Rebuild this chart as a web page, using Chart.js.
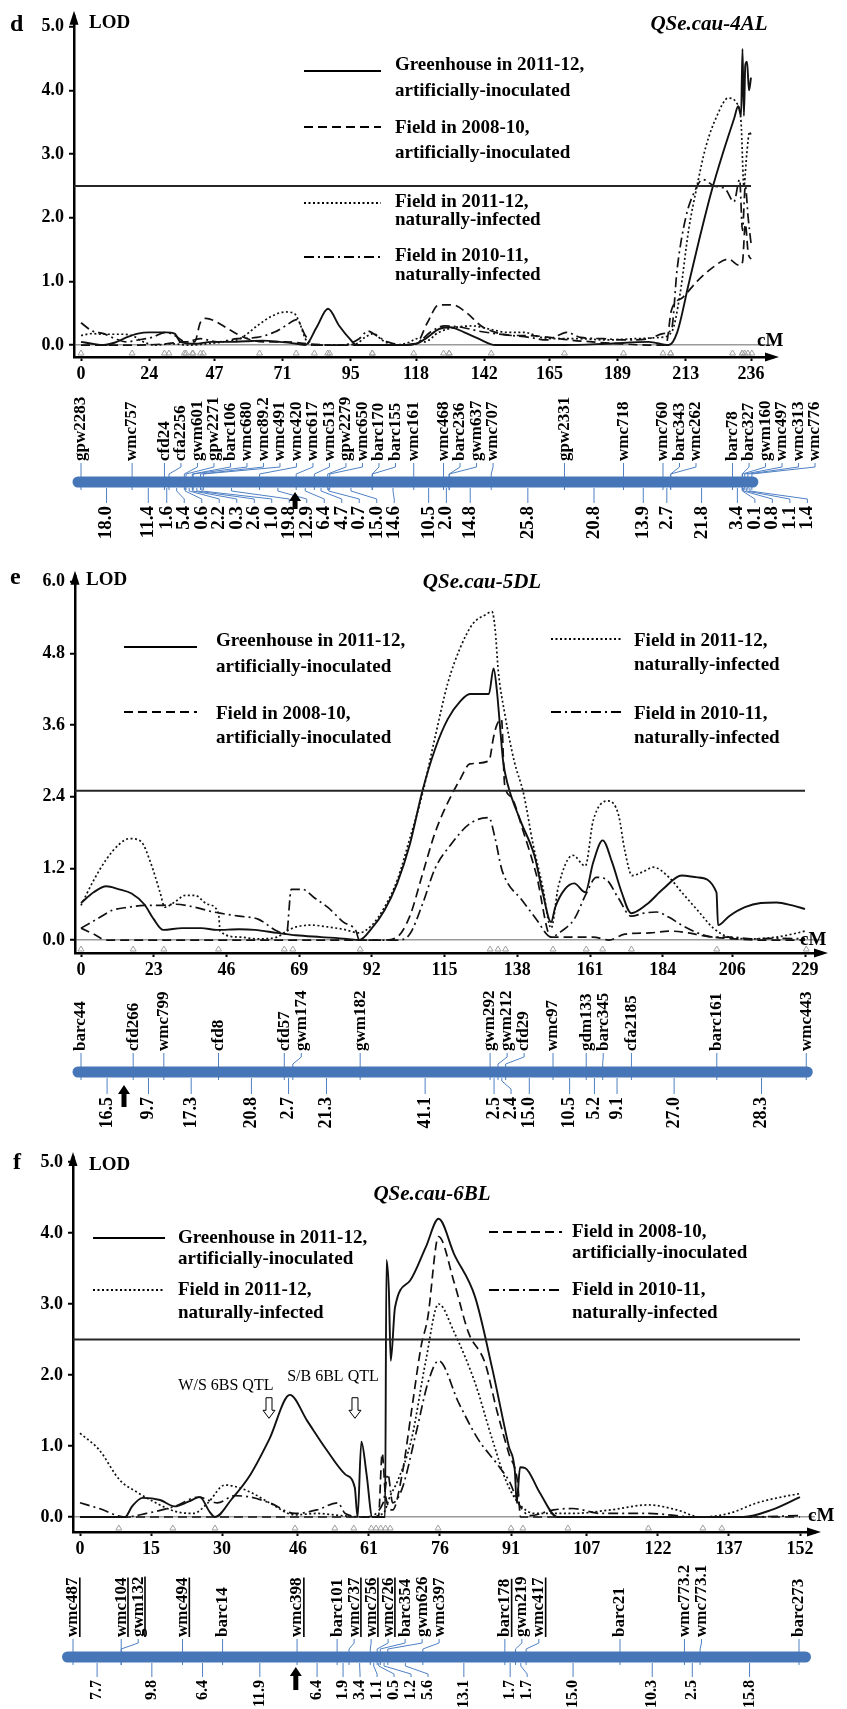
<!DOCTYPE html>
<html><head><meta charset="utf-8">
<script src="https://cdn.jsdelivr.net/npm/chart.js@4.4.1/dist/chart.umd.min.js"></script>
<style>
html,body{margin:0;padding:0;background:#fff;width:847px;height:1709px;overflow:hidden;position:relative}
canvas{position:absolute;left:0}
</style></head>
<body>
<canvas id="cd" width="847" height="560" style="top:0px;width:847px;height:560px"></canvas>
<canvas id="ce" width="847" height="580" style="top:560px;width:847px;height:580px"></canvas>
<canvas id="cf" width="847" height="569" style="top:1140px;width:847px;height:569px"></canvas>
<script>
// ================= DATA =================
const seriesNames = {
  gh:    ['Greenhouse in 2011-12,', 'artificially-inoculated'],
  f0810: ['Field in 2008-10,', 'artificially-inoculated'],
  f1112: ['Field in 2011-12,', 'naturally-infected'],
  f1011: ['Field in 2010-11,', 'naturally-infected']
};

// ---- Panel d : QSe.cau-4AL ----
const d_xTicks = ['0','24','47','71','95','118','142','165','189','213','236'];
const d_yTicks = ['0.0','1.0','2.0','3.0','4.0','5.0'];
const d_threshold = 2.5;
const d_greenhouse = [[0,0.05],[4,0.02],[8,0.0],[12,0.04],[16,0.12],[20,0.18],[24,0.2],[30,0.2],[33,0.18],[35,0.05],[40,0.02],[46,0.05],[52,0.05],[58,0.06],[64,0.07],[70,0.05],[76,0.02],[79,0.0],[83,0.28],[87,0.57],[91,0.3],[95,0.08],[97,0.0],[105,0.0],[112,0.0],[118,0.02],[122,0.12],[126,0.25],[130,0.28],[135,0.2],[140,0.1],[146,0.0],[155,0.0],[170,0.0],[185,0.02],[200,0.05],[207,0.0],[210,0.2],[214,0.95],[218,1.7],[222,2.4],[226,3.0],[230,3.55],[231.5,3.75],[232.5,3.6],[233,4.65],[233.5,3.6],[234,4.4],[234.6,4.45],[235.3,4.0],[236,4.2]];
const d_field0810 = [[0,0.0],[20,0.0],[30,0.02],[36,0.05],[40,0.05],[42,0.35],[44,0.42],[47,0.38],[52,0.25],[56,0.15],[60,0.08],[66,0.05],[72,0.05],[80,0.02],[90,0.0],[100,0.0],[110,0.0],[118,0.02],[122,0.35],[126,0.63],[131,0.63],[136,0.5],[141,0.3],[146,0.2],[152,0.15],[158,0.15],[165,0.12],[172,0.08],[180,0.05],[190,0.02],[200,0.0],[206,0.0],[208,0.55],[212,0.75],[217,1.0],[222,1.2],[228,1.35],[232,1.25],[233,1.3],[234,1.9],[235,1.45],[236,1.35]];
const d_field1112 = [[0,0.15],[4,0.18],[8,0.17],[14,0.17],[18,0.15],[22,0.05],[26,0.0],[32,0.02],[38,0.0],[44,0.02],[50,0.05],[56,0.1],[62,0.3],[67,0.45],[72,0.52],[75,0.5],[77,0.35],[79,0.1],[81,0.0],[90,0.0],[97,0.02],[100,0.12],[103,0.18],[106,0.08],[110,0.0],[116,0.05],[118,0.1],[121,0.05],[126,0.2],[132,0.28],[138,0.3],[144,0.25],[150,0.2],[156,0.2],[162,0.12],[168,0.1],[175,0.1],[185,0.08],[195,0.1],[204,0.12],[208,0.2],[211,0.8],[214,1.8],[217,2.5],[220,3.1],[224,3.6],[228,3.88],[231,3.8],[232.5,3.5],[233.5,2.5],[234.5,3.0],[235.5,3.35],[236,3.3]];
const d_field1011 = [[0,0.35],[4,0.22],[8,0.18],[12,0.1],[16,0.05],[20,0.08],[25,0.12],[30,0.2],[33,0.15],[37,0.05],[42,0.1],[48,0.05],[55,0.1],[62,0.12],[68,0.2],[72,0.3],[76,0.4],[79,0.15],[82,0.0],[92,0.0],[98,0.1],[101,0.22],[104,0.15],[108,0.05],[114,0.0],[119,0.05],[123,0.2],[128,0.3],[134,0.28],[140,0.22],[146,0.18],[152,0.15],[158,0.12],[164,0.08],[168,0.15],[171,0.2],[176,0.12],[184,0.1],[192,0.08],[200,0.1],[205,0.18],[208,0.25],[210,1.2],[213,2.0],[216,2.4],[219,2.6],[223,2.5],[227,2.45],[230,2.25],[232,2.6],[233,1.8],[234,2.5],[235,2.0],[236,1.6]];
const d_markers = ['gpw2283','wmc757','cfd24','cfa2256','gwm601','gpw2271','barc106','wmc680','wmc89.2','wmc491','wmc420','wmc617','wmc513','gpw2279','wmc650','barc170','barc155','wmc161','wmc468','barc236','gwm637','wmc707','gpw2331','wmc718','wmc760','barc343','wmc262','barc78','barc327','gwm160','wmc497','wmc313','wmc776'];
const d_markerPos = [0,18.0,29.4,31.0,36.4,37.0,39.2,39.5,42.1,43.1,62.9,75.8,82.2,86.9,87.6,102.6,102.6,117.2,127.7,129.7,129.7,144.5,170.3,191.1,205.0,207.7,207.7,229.5,232.9,233.0,233.8,234.9,236.3];
const d_intervals = ['18.0','11.4','1.6','5.4','0.6','2.2','0.3','2.6','1.0','19.8','12.9','6.4','4.7','0.7','15.0','14.6','10.5','2.0','14.8','25.8','20.8','13.9','2.7','21.8','3.4','0.1','0.8','1.1','1.4'];
const d_arrow = [75.4];

// ---- Panel e : QSe.cau-5DL ----
const e_xTicks = ['0','23','46','69','92','115','138','161','184','206','229'];
const e_yTicks = ['0.0','1.2','2.4','3.6','4.8','6.0'];
const e_threshold = 2.5;
const e_greenhouse = [[0,0.62],[4,0.8],[8,0.9],[12,0.85],[16,0.78],[20,0.6],[23,0.35],[26,0.17],[32,0.2],[38,0.2],[43,0.17],[50,0.18],[55,0.17],[62,0.12],[68,0.08],[76,0.05],[84,0.02],[88,0.0],[92,0.2],[96,0.5],[100,0.95],[104,1.6],[108,2.5],[112,3.2],[116,3.7],[120,4.0],[123,4.12],[129,4.12],[130.5,4.55],[131.5,4.2],[132.5,3.6],[133.5,3.0],[135,2.6],[139,2.0],[143.5,1.4],[146,0.8],[148.7,0.3],[150,0.55],[153,0.85],[156,0.95],[159.5,0.8],[162,1.3],[165,1.67],[168,1.3],[171,0.8],[174,0.45],[179,0.6],[184,0.85],[190,1.08],[195,1.05],[201,0.8],[201.5,0.25],[205,0.4],[210,0.55],[215,0.62],[220,0.63],[225,0.58],[229,0.52]];
const e_field0810 = [[0,0.2],[4,0.1],[8,0.0],[20,0.0],[40,0.0],[60,0.0],[80,0.0],[90,0.0],[96,0.0],[100,0.05],[104,0.4],[108,1.1],[112,1.8],[116,2.3],[120,2.7],[123,2.95],[129,3.0],[130.5,3.4],[131.5,3.6],[133,3.7],[134,2.6],[136,2.4],[140,1.8],[144,1.1],[148.7,0.05],[155,0.05],[162,0.05],[167,0.0],[172,0.1],[180,0.12],[186,0.15],[192,0.12],[197,0.07],[204,0.03],[215,0.0],[229,0.0]];
const e_field1112 = [[0,0.58],[4,1.0],[8,1.35],[12,1.6],[15.4,1.7],[19,1.65],[22,1.3],[25,0.8],[26.5,0.55],[30,0.65],[33,0.75],[36,0.75],[40,0.6],[43.5,0.45],[44,0.15],[50,0.05],[56,0.02],[62,0.05],[65,0.15],[68,0.22],[73,0.25],[78,0.22],[83,0.18],[88,0.12],[92,0.25],[96,0.55],[100,1.0],[104,1.7],[108,2.45],[112,3.4],[116,4.3],[120,4.9],[124,5.3],[128,5.45],[130,5.5],[131,5.2],[132,4.5],[134,3.8],[137,3.0],[140,2.45],[143,1.6],[146,0.9],[148.7,0.2],[151,0.9],[155.6,1.42],[159.5,1.24],[162,2.0],[166.7,2.33],[170,2.1],[172,1.5],[174.3,1.08],[178,1.15],[181,1.22],[186,1.05],[190,0.8],[195,0.5],[200,0.2],[205,0.05],[212,0.02],[220,0.05],[225,0.1],[229,0.15]];
const e_field1011 = [[0,0.2],[5,0.35],[10,0.5],[15,0.55],[20,0.58],[25,0.58],[30,0.6],[36,0.55],[41,0.48],[44,0.45],[50,0.4],[56,0.35],[62,0.15],[65,0.1],[66.5,0.85],[70,0.85],[74,0.7],[78,0.55],[83,0.3],[87,0.15],[88,0.0],[100,0.0],[104,0.1],[108,0.6],[112,1.2],[117,1.6],[123,1.95],[129,2.05],[131,1.7],[133,1.2],[135,0.95],[139,0.7],[144,0.35],[148.7,0.05],[152,0.15],[156,0.35],[160,0.8],[163,1.05],[166,1.02],[170,0.7],[174,0.4],[178,0.45],[182,0.47],[186,0.38],[190,0.25],[196,0.1],[200,0.05],[206,0.05],[212,0.02],[220,0.03],[229,0.02]];
const e_markers = ['barc44','cfd266','wmc799','cfd8','cfd57','gwm174','gwm182','gwm292','gwm212','cfd29','wmc97','gdm133','barc345','cfa2185','barc161','wmc443'];
const e_markerPos = [0,16.5,26.2,43.5,64.3,67.0,88.3,129.4,131.9,134.3,149.3,159.8,165.0,174.1,201.1,229.4];
const e_intervals = ['16.5','9.7','17.3','20.8','2.7','21.3','41.1','2.5','2.4','15.0','10.5','5.2','9.1','27.0','28.3'];
const e_arrow = [13.6];

// ---- Panel f : QSe.cau-6BL ----
const f_xTicks = ['0','15','30','46','61','76','91','107','122','137','152'];
const f_yTicks = ['0.0','1.0','2.0','3.0','4.0','5.0'];
const f_threshold = 2.5;
const f_greenhouse = [[0,0.0],[5,0.0],[9.5,0.0],[11,0.15],[13.2,0.27],[16.9,0.24],[20,0.15],[23,0.22],[25.3,0.28],[27.4,0.07],[28.5,0.0],[32,0.25],[36,0.6],[40,1.1],[44.3,1.72],[48,1.35],[52,0.95],[56,0.6],[58,0.42],[58.6,0.0],[59.4,1.06],[60.5,0.6],[61.7,0.0],[64.4,0.0],[64.7,3.62],[65.2,3.2],[65.6,2.2],[66.5,2.95],[69.7,3.33],[73,3.8],[75.7,4.2],[79,3.7],[83.4,3.1],[87,2.1],[90.5,1.0],[91.8,0.65],[92.2,0.2],[92.9,0.7],[94,0.69],[97,0.35],[100.8,0.0],[110,0.0],[125,0.0],[140,0.0],[146,0.1],[152,0.28]];
const f_field0810 = [[0,0.0],[20,0.0],[40,0.0],[58,0.0],[63,0.0],[63.8,0.9],[64.5,0.3],[66,0.1],[68,0.6],[70,1.5],[72,2.4],[73.4,2.8],[75.7,3.95],[79,3.3],[82,2.6],[85.5,2.17],[88,1.5],[90.5,0.9],[92.4,0.48],[93,0.0],[110,0.0],[130,0.0],[152,0.0]];
const f_field1112 = [[0,1.18],[4,0.95],[8.4,0.52],[12,0.35],[16,0.2],[20,0.08],[24,0.05],[27,0.2],[30.6,0.45],[32.7,0.43],[36,0.35],[40,0.2],[45.4,0.03],[50,0.05],[55,0.02],[60,0.0],[64,0.05],[65.5,0.3],[67,0.5],[70,1.1],[73,2.2],[75.7,3.0],[79,2.6],[83.4,1.89],[87,1.1],[90,0.5],[92.5,0.2],[96,0.05],[104,0.05],[112,0.1],[120,0.17],[126,0.1],[131,0.0],[137,0.05],[143,0.2],[148,0.28],[152,0.33]];
const f_field1011 = [[0,0.2],[4,0.12],[9.5,0.0],[14,0.05],[20,0.15],[25,0.28],[29,0.2],[32.7,0.3],[36,0.28],[40,0.2],[45.4,0.05],[50,0.1],[54.4,0.2],[56,0.05],[60,0.0],[64,0.2],[65,0.6],[66,0.2],[68,0.4],[71,1.2],[73.5,1.9],[75.7,2.2],[80,1.6],[84,1.1],[88,0.75],[90.8,0.48],[92.5,0.2],[95,0.02],[100,0.1],[104,0.12],[110,0.05],[120,0.05],[130,0.0],[140,0.0],[152,0.02]];
const f_axisMarks = [8.2,19.6,28.5,45.4,53.8,57.8,61.5,62.5,63.5,64.5,65.5,75.6,91,93.5,103,120,131.5,135.5];
const f_markers = ['wmc487','wmc104','gwm132','wmc494','barc14','wmc398','barc101','wmc737','wmc756','wmc726','barc354','gwm626','wmc397','barc178','gwm219','wmc417','barc21','wmc773.2','wmc773.1','barc273'];
const f_underlined = ['wmc487','wmc104','gwm132','wmc494','wmc398','wmc737','wmc756','wmc726','barc178','wmc417'];
const f_markerPos = [0,7.7,7.7,17.5,23.9,35.8,42.2,44.1,47.5,48.6,49.1,50.3,55.9,69.0,70.7,72.4,87.4,97.7,100.2,116.0];
const f_intervals = ['7.7','9.8','6.4','11.9','6.4','1.9','3.4','1.1','0.5','1.2','5.6','13.1','1.7','1.7','15.0','10.3','2.5','15.8'];
const f_arrow = [35.6];
const f_qtlNotes = ['W/S 6BS QTL', 'S/B 6BL QTL'];

// ================= STYLE / LAYOUT =================
const SERIF = '"Liberation Serif","Times New Roman",serif';
const BAR_BLUE = '#4676b8';
const LINE_BLUE = '#4f80c4';
const STY = {
  gh:    {dash: [],            width: 1.9},
  f0810: {dash: [9, 5],        width: 1.7},
  f1112: {dash: [2, 2.5],      width: 1.7},
  f1011: {dash: [10, 4, 2, 4], width: 1.7}
};

const panels = [
  { id:'cd', canvasTop:0, canvasH:560, letter:'d', title:'QSe.cau-4AL',
    plotLeft:74, zeroX:81, maxCM:236, endX:751, axisRight:773, plotTop:14, zeroY:345, topTickVal:5, topTickY:25, axisY:357,
    xTicks:d_xTicks, yTicks:d_yTicks, threshold:d_threshold,
    series:{gh:d_greenhouse, f0810:d_field0810, f1112:d_field1112, f1011:d_field1011},
    axisMarks:d_markerPos,
    letterPos:[10,25], lodPos:[89,23], cmPos:[757,341], titlePos:[709,25],
    legend:[{k:'gh',x1:304,x2:381,y:71,tx:395,ty:[65,91]},{k:'f0810',x1:304,x2:381,y:127,tx:395,ty:[128,153]},
            {k:'f1112',x1:304,x2:381,y:203,tx:395,ty:[202,220]},{k:'f1011',x1:304,x2:381,y:257,tx:395,ty:[256,275]}],
    notes:[],
    map:{names:d_markers, pos:d_markerPos, intervals:d_intervals, arrow:d_arrow, arrowY:[492,509], barY:482, labelBottom:461, numTop:506,
         padL:3, padR:1, labelGap:16.5, numGap:17.5, numFont:19, underlined:[]} },
  { id:'ce', canvasTop:560, canvasH:580, letter:'e', title:'QSe.cau-5DL',
    plotLeft:75, zeroX:81, maxCM:229, endX:805, axisRight:822, plotTop:574, zeroY:940, topTickVal:6, topTickY:580, axisY:953,
    xTicks:e_xTicks, yTicks:e_yTicks, threshold:e_threshold,
    series:{gh:e_greenhouse, f0810:e_field0810, f1112:e_field1112, f1011:e_field1011},
    axisMarks:e_markerPos,
    letterPos:[10,578], lodPos:[86,580], cmPos:[800,940], titlePos:[482,583],
    legend:[{k:'gh',x1:124,x2:197,y:647,tx:216,ty:[641,667]},{k:'f0810',x1:124,x2:197,y:712,tx:216,ty:[714,738]},
            {k:'f1112',x1:551,x2:622,y:639,tx:634,ty:[641,665]},{k:'f1011',x1:551,x2:622,y:712,tx:634,ty:[714,738]}],
    notes:[],
    map:{names:e_markers, pos:e_markerPos, intervals:e_intervals, arrow:e_arrow, arrowY:[1085,1107], barY:1072, labelBottom:1051, numTop:1097,
         padL:3, padR:1, labelGap:17, numGap:17, numFont:18, underlined:[]} },
  { id:'cf', canvasTop:1140, canvasH:569, letter:'f', title:'QSe.cau-6BL',
    plotLeft:73, zeroX:80, maxCM:152, endX:800, axisRight:815, plotTop:1157, zeroY:1517, topTickVal:5, topTickY:1162, axisY:1532,
    xTicks:f_xTicks, yTicks:f_yTicks, threshold:f_threshold,
    series:{gh:f_greenhouse, f0810:f_field0810, f1112:f_field1112, f1011:f_field1011},
    axisMarks:f_axisMarks,
    letterPos:[13,1163], lodPos:[89,1165], cmPos:[808,1516], titlePos:[432,1195],
    legend:[{k:'gh',x1:93,x2:165,y:1238,tx:178,ty:[1238,1259]},{k:'f1112',x1:93,x2:165,y:1290,tx:178,ty:[1290,1313]},
            {k:'f0810',x1:489,x2:562,y:1232,tx:572,ty:[1232,1253]},{k:'f1011',x1:489,x2:562,y:1290,tx:572,ty:[1290,1313]}],
    notes:[{text:f_qtlNotes[0], x:30.8, y:1.85, ax:39.9}, {text:f_qtlNotes[1], x:53.4, y:1.98, ax:58.05}],
    noteArrowLOD:[1.68, 1.39],
    map:{names:f_markers, pos:f_markerPos, intervals:f_intervals, arrow:f_arrow, arrowY:[1667,1690], barY:1657, labelBottom:1637, numTop:1680,
         padL:5.5, padR:6.5, labelGap:17, numGap:17, numFont:16, underlined:f_underlined,
         scale:{zeroX:73, endX:799, endVal:116}} }
];

// ================= DRAW HELPERS =================
function spread(xs, gap){ const out=[]; let last=-Infinity; xs.forEach(x=>{ const v=Math.max(x,last+gap); out.push(v); last=v; }); return out; }

function txt(ctx, s, x, y, font, align, baseline){
  ctx.font = font; ctx.textAlign = align||'left'; ctx.textBaseline = baseline||'middle'; ctx.fillText(s, x, y);
}

function drawMap(chart, P){
  const M = P.map, ctx = chart.ctx, top = P.canvasTop;
  const sc = chart.scales[M.scale ? 'xm' : 'x'];
  const px = v => sc.getPixelForValue(v);
  const barY = M.barY - top, lb = M.labelBottom - top, nt = M.numTop - top;
  const mx = M.pos.map(px);
  const lx = spread(mx, M.labelGap);
  ctx.save();
  ctx.strokeStyle = LINE_BLUE; ctx.lineWidth = 1;
  mx.forEach((x,i)=>{ ctx.beginPath(); ctx.moveTo(lx[i], lb+2); ctx.lineTo(lx[i], lb+6); ctx.lineTo(x, barY-8); ctx.lineTo(x, barY+8); ctx.stroke(); });
  const uniq = [...new Set(M.pos)].sort((a,b)=>a-b);
  const mids = []; for (let i=0;i<uniq.length-1;i++) mids.push(px((uniq[i]+uniq[i+1])/2));
  const nx = spread(mids, M.numGap);
  mids.forEach((x,i)=>{ ctx.beginPath(); ctx.moveTo(x, barY+6); ctx.lineTo(x, barY+9); ctx.lineTo(nx[i], barY+17); ctx.lineTo(nx[i], nt-3); ctx.stroke(); });
  // chromosome bar
  ctx.strokeStyle = BAR_BLUE; ctx.lineWidth = 11; ctx.lineCap = 'round';
  ctx.beginPath(); ctx.moveTo(mx[0]-M.padL, barY); ctx.lineTo(mx[mx.length-1]+M.padR, barY); ctx.stroke();
  // marker names
  ctx.fillStyle = '#000';
  M.names.forEach((n,i)=>{
    ctx.save(); ctx.translate(lx[i], lb); ctx.rotate(-Math.PI/2);
    txt(ctx, n, 0, 0, `bold 17px ${SERIF}`, 'left', 'middle');
    if (M.underlined.includes(n)) { const w = ctx.measureText(n).width; ctx.fillRect(0, 6, w, 1.6); }
    ctx.restore();
  });
  // distances
  M.intervals.forEach((t,i)=>{
    ctx.save(); ctx.translate(nx[i], nt); ctx.rotate(-Math.PI/2);
    txt(ctx, t, 0, 0, `bold ${M.numFont}px ${SERIF}`, 'right', 'middle');
    ctx.restore();
  });
  // arrow
  M.arrow.forEach(v=>{
    const x = px(v), y1 = M.arrowY[0]-top, y2 = M.arrowY[1]-top;
    ctx.beginPath(); ctx.moveTo(x, y1); ctx.lineTo(x+6, y1+9); ctx.lineTo(x+2.5, y1+9); ctx.lineTo(x+2.5, y2);
    ctx.lineTo(x-2.5, y2); ctx.lineTo(x-2.5, y1+9); ctx.lineTo(x-6, y1+9); ctx.closePath(); ctx.fill();
  });
  ctx.restore();
}

function drawDecor(chart, P){
  const ctx = chart.ctx, top = P.canvasTop, ca = chart.chartArea;
  const xs = chart.scales.x, ys = chart.scales.y;
  ctx.save();
  ctx.fillStyle = '#000';
  // axis arrowheads
  ctx.beginPath(); ctx.moveTo(ca.left, ca.top-5); ctx.lineTo(ca.left-4.5, ca.top+9); ctx.lineTo(ca.left+4.5, ca.top+9); ctx.closePath(); ctx.fill();
  ctx.beginPath(); ctx.moveTo(ca.right+6, ca.bottom); ctx.lineTo(ca.right-8, ca.bottom-4.5); ctx.lineTo(ca.right-8, ca.bottom+4.5); ctx.closePath(); ctx.fill();
  // marker triangles on the cM axis
  ctx.strokeStyle = '#a0a0a0'; ctx.lineWidth = 1;
  P.axisMarks.forEach(v=>{ const x = xs.getPixelForValue(v); ctx.beginPath(); ctx.moveTo(x-3, ca.bottom-2); ctx.lineTo(x, ca.bottom-7); ctx.lineTo(x+3, ca.bottom-2); ctx.closePath(); ctx.stroke(); });
  // texts
  txt(ctx, P.letter, P.letterPos[0], P.letterPos[1]-top, `bold 24px ${SERIF}`, 'left', 'middle');
  txt(ctx, 'LOD', P.lodPos[0], P.lodPos[1]-top, `bold 19px ${SERIF}`, 'left', 'middle');
  txt(ctx, 'cM', P.cmPos[0], P.cmPos[1]-top, `bold 19px ${SERIF}`, 'left', 'middle');
  txt(ctx, P.title, P.titlePos[0], P.titlePos[1]-top, `italic bold 21px ${SERIF}`, 'center', 'middle');
  // legend
  P.legend.forEach(L=>{
    ctx.save(); ctx.strokeStyle='#000'; ctx.lineWidth=2; ctx.setLineDash(STY[L.k].dash);
    ctx.beginPath(); ctx.moveTo(L.x1, L.y-top); ctx.lineTo(L.x2, L.y-top); ctx.stroke(); ctx.restore();
    seriesNames[L.k].forEach((s,i)=> txt(ctx, s, L.tx, L.ty[i]-top, `bold 19px ${SERIF}`, 'left', 'middle'));
  });
  // QTL notes (panel f)
  P.notes.forEach(N=>{
    txt(ctx, N.text, xs.getPixelForValue(N.x), ys.getPixelForValue(N.y), `16px ${SERIF}`, 'center', 'middle');
    const x = xs.getPixelForValue(N.ax), y1 = ys.getPixelForValue(P.noteArrowLOD[0]), y2 = ys.getPixelForValue(P.noteArrowLOD[1]);
    const hb = y2-8;
    ctx.save(); ctx.fillStyle='#fff'; ctx.strokeStyle='#000'; ctx.lineWidth=1;
    ctx.beginPath(); ctx.moveTo(x-3,y1); ctx.lineTo(x+3,y1); ctx.lineTo(x+3,hb); ctx.lineTo(x+6,hb); ctx.lineTo(x,y2);
    ctx.lineTo(x-6,hb); ctx.lineTo(x-3,hb); ctx.closePath(); ctx.fill(); ctx.stroke(); ctx.restore();
  });
  ctx.restore();
  drawMap(chart, P);
}

// ================= BUILD CHARTS =================
const X_AXIS_H = 40;
panels.forEach(P=>{
  const top = P.canvasTop;
  const pxPerCM = (P.endX - P.zeroX) / P.maxCM;
  const xMin = -(P.zeroX - P.plotLeft) / pxPerCM;
  const xMax = P.maxCM + (P.axisRight - P.endX) / pxPerCM;
  const yPer = (P.zeroY - P.topTickY) / P.topTickVal;
  const yMin = -(P.axisY - P.zeroY) / yPer;
  const yMax = (P.zeroY - P.plotTop) / yPer;
  const yVals = P.yTicks.map(parseFloat);
  const xVals = P.xTicks.map(parseFloat);

  const datasets = [{
    data:[{x:xMin, y:P.threshold},{x:P.maxCM, y:P.threshold}],
    borderColor:'#262626', borderWidth:2, pointRadius:0, fill:false
  }];
  Object.keys(P.series).forEach(k=>{
    datasets.push({
      data: P.series[k].map(([x,y])=>({x,y})),
      borderColor:'#111', borderWidth:STY[k].width, borderDash:STY[k].dash,
      pointRadius:0, fill:false, cubicInterpolationMode:'monotone'
    });
  });

  const scales = {
    x:{ type:'linear', position:'bottom', min:xMin, max:xMax,
        afterBuildTicks:s=>{ s.ticks = xVals.map(v=>({value:v})); },
        afterFit:s=>{ s.height = X_AXIS_H; },
        ticks:{ autoSkip:false, maxRotation:0, minRotation:0, padding:3, color:'#000',
                font:{family:SERIF, size:18, weight:'bold'}, callback:(v,i)=>P.xTicks[i] },
        grid:{ display:true, drawOnChartArea:false, drawTicks:true, tickLength:4, tickColor:'#000', tickWidth:2 },
        border:{ display:true, color:'#000', width:2.5 } },
    y:{ type:'linear', position:'left', min:yMin, max:yMax,
        afterBuildTicks:s=>{ s.ticks = yVals.map(v=>({value:v})); },
        afterFit:s=>{ s.width = P.plotLeft; },
        ticks:{ autoSkip:false, padding:5, color:'#000', font:{family:SERIF, size:18, weight:'bold'}, callback:(v,i)=>P.yTicks[i] },
        grid:{ display:true, drawOnChartArea:true, drawTicks:true, tickLength:5, tickColor:'#000', tickWidth:2,
               lineWidth:1.5, color:c=> (c.tick && c.tick.value===0) ? '#9a9a9a' : 'rgba(0,0,0,0)' },
        border:{ display:true, color:'#000', width:2.5 } }
  };
  if (P.map.scale){
    const S = P.map.scale, W = P.axisRight - P.plotLeft;
    const range = S.endVal * W / (S.endX - S.zeroX);
    const mn = -(S.zeroX - P.plotLeft) * range / W;
    scales.xm = { type:'linear', display:false, position:'bottom', min:mn, max:mn+range };
  }

  new Chart(document.getElementById(P.id), {
    type:'line',
    data:{ datasets },
    options:{
      responsive:false, animation:false, devicePixelRatio:1,
      layout:{ autoPadding:false, padding:{ left:0, top:P.plotTop-top, right:847-P.axisRight, bottom:P.canvasH-(P.axisY-top)-X_AXIS_H } },
      plugins:{ legend:{display:false}, title:{display:false}, tooltip:{enabled:false} },
      elements:{ line:{ borderCapStyle:'butt' } },
      scales
    },
    plugins:[{ id:'decor'+P.id, afterDraw:c=>drawDecor(c,P) }]
  });
});
</script>
</body></html>
